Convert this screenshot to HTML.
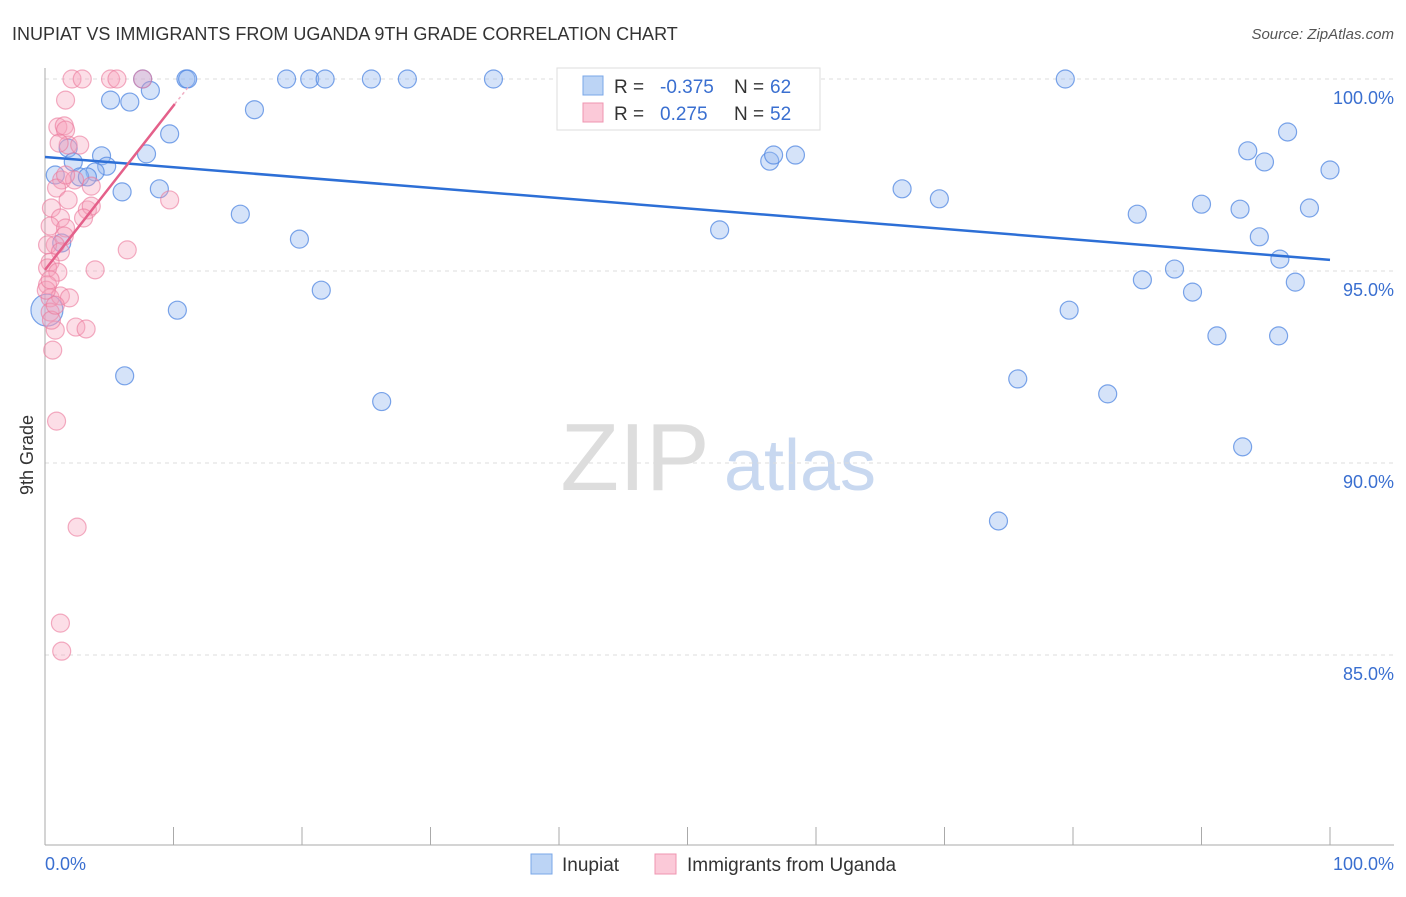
<!DOCTYPE html>
<html><head><meta charset="utf-8"><style>
body{margin:0;background:#fff;font-family:"Liberation Sans",sans-serif;}
svg text{font-family:"Liberation Sans",sans-serif;}
</style></head><body>
<svg id="chart" width="1406" height="892" xmlns="http://www.w3.org/2000/svg">
<text x="12" y="40" font-size="18" fill="#333">INUPIAT VS IMMIGRANTS FROM UGANDA 9TH GRADE CORRELATION CHART</text>
<text x="1394" y="39" font-size="15" fill="#555" font-style="italic" text-anchor="end">Source: ZipAtlas.com</text>
<text x="33" y="455" font-size="18" fill="#333" transform="rotate(-90 33 455)" text-anchor="middle">9th Grade</text>
<g><text x="635" y="490" font-size="96" fill="#ddd" text-anchor="middle" font-family="Liberation Serif">ZIP</text><text x="800" y="490" font-size="72" fill="#c8d8f0" text-anchor="middle">atlas</text></g>
<g id="grid"></g><g id="axes"></g><g id="pts"></g><g id="lines"></g>
<g>
<rect x="557" y="68" width="263" height="62" fill="#fff" stroke="#ddd"/>
<rect x="583" y="76" width="20" height="19" fill="#bcd4f5" stroke="#7aa7e8"/>
<rect x="583" y="103" width="20" height="19" fill="#fbc9d8" stroke="#ef95b0"/>
<text x="614" y="93" font-size="19" fill="#333">R = </text><text x="660" y="93" font-size="19" fill="#3a6fd0">-0.375</text>
<text x="734" y="93" font-size="19" fill="#333">N = </text><text x="770" y="93" font-size="19" fill="#3a6fd0">62</text>
<text x="614" y="120" font-size="19" fill="#333">R = </text><text x="660" y="120" font-size="19" fill="#3a6fd0">0.275</text>
<text x="734" y="120" font-size="19" fill="#333">N = </text><text x="770" y="120" font-size="19" fill="#3a6fd0">52</text>
</g>
<g>
<rect x="531" y="854" width="21" height="20" fill="#bcd4f5" stroke="#7aa7e8"/>
<text x="562" y="871" font-size="19" fill="#333">Inupiat</text>
<rect x="655" y="854" width="21" height="20" fill="#fbc9d8" stroke="#ef95b0"/>
<text x="687" y="871" font-size="19" fill="#333">Immigrants from Uganda</text>
</g>
<text x="45" y="870" font-size="18" fill="#3a6fd0">0.0%</text>
<text x="1394" y="870" font-size="18" fill="#3a6fd0" text-anchor="end">100.0%</text>
</svg>
<script>
const yTicks=[100,95,90,85];
const yTickLabels=["100.0%","95.0%","90.0%","85.0%"];
const blueX=[7.6,10.97,11.1,18.8,20.6,21.8,25.4,28.2,34.9,47.1,79.4,5.1,6.6,8.2,16.3,9.7,1.8,4.4,7.9,2.2,4.8,3.9,0.8,2.7,3.3,6.0,8.9,1.3,15.2,19.8,21.5,10.3,0.15,6.2,26.2,52.5,56.4,56.7,58.4,66.7,69.6,75.7,74.2,79.7,82.7,85.0,85.4,87.9,89.3,90.0,91.2,93.0,93.6,94.5,94.9,93.2,96.1,96.0,96.7,97.3,98.4,100];
const blueY=[100,100,100,100,100,100,100,100,100,100,100,99.45,99.4,99.7,99.2,98.57,98.2,98.0,98.05,97.84,97.73,97.58,97.5,97.45,97.45,97.06,97.14,95.73,96.48,95.83,94.5,93.98,93.98,92.27,91.6,96.07,97.86,98.02,98.02,97.14,96.88,92.19,88.49,93.98,91.8,96.48,94.77,95.05,94.45,96.74,93.31,96.61,98.13,95.89,97.84,90.42,95.31,93.31,98.62,94.71,96.64,97.63];
const pinkX=[2.1,2.9,5.1,5.6,7.6,1.6,1.0,1.5,1.6,1.8,1.1,2.7,1.3,3.6,0.9,1.8,3.3,3.6,0.5,1.2,3.0,0.4,1.6,1.5,0.8,0.2,1.2,6.4,0.4,0.2,1.0,3.9,0.2,0.4,1.2,1.9,0.4,0.8,2.4,3.2,0.6,9.7,0.9,2.5,1.2,1.3,0.1,0.4,0.5,0.8,2.3,1.6];
const pinkY=[100,100,100,100,100,99.45,98.75,98.78,98.67,98.28,98.33,98.28,97.37,97.21,97.16,96.85,96.59,96.69,96.64,96.38,96.38,96.17,96.12,95.91,95.68,95.68,95.5,95.55,95.23,95.08,94.97,95.03,94.64,94.3,94.35,94.3,93.93,93.46,93.54,93.49,92.94,96.85,91.09,88.33,85.83,85.1,94.5,94.77,93.72,94.11,97.37,97.5];
const blueTrend=[[0,97.97],[100,95.29]];
const pinkTrend=[[0,95.03],[10.1,99.35]];
const pinkTrendExt=[[10.1,99.35],[11.3,99.85]];
const NS='http://www.w3.org/2000/svg';
const X=v=>45+v*12.85, Y=v=>79+(100-v)*38.4;
function mk(tag,attrs,parent){const e=document.createElementNS(NS,tag);for(const k in attrs)e.setAttribute(k,attrs[k]);document.getElementById(parent).appendChild(e);return e;}
yTicks.forEach((t,i)=>{
 const g=mk('line',{x1:45,x2:1394,y1:Y(t),y2:Y(t),stroke:'#ddd','stroke-dasharray':'4,4'},'grid');
 
 
 const tx=mk('text',{x:1394,y:Y(t)+25,'font-size':18,fill:'#3a6fd0','text-anchor':'end'},'grid');
 tx.textContent=yTickLabels[i];
 
 
});
const ax=mk('line',{x1:45,x2:45,y1:68,y2:845,stroke:'#aaa'},'axes');


const bx=mk('line',{x1:45,x2:1394,y1:845,y2:845,stroke:'#aaa'},'axes');


for(let i=1;i<=10;i++){const t=mk('line',{x1:X(i*10),x2:X(i*10),y1:827,y2:845,stroke:'#aaa'},'axes');
 
 }
blueX.forEach((x,i)=>{const r=(i===32)?16:9;
 const c=mk('circle',{cx:X(x),cy:Y(blueY[i]),r:r,fill:'rgba(150,185,240,0.4)',stroke:'rgba(80,135,225,0.75)','stroke-width':1.2},'pts');
 
 });
pinkX.forEach((x,i)=>{
 const c=mk('circle',{cx:X(x),cy:Y(pinkY[i]),r:9,fill:'rgba(245,160,185,0.35)',stroke:'rgba(235,120,155,0.6)','stroke-width':1.2},'pts');
 
 });
const bl=mk('line',{x1:X(blueTrend[0][0]),y1:Y(blueTrend[0][1]),x2:X(blueTrend[1][0]),y2:Y(blueTrend[1][1]),stroke:'#2d6fd6','stroke-width':2.5},'lines');


const pl=mk('line',{x1:X(pinkTrend[0][0]),y1:Y(pinkTrend[0][1]),x2:X(pinkTrend[1][0]),y2:Y(pinkTrend[1][1]),stroke:'#e4608a','stroke-width':2.5},'lines');


const pe=mk('line',{x1:X(pinkTrendExt[0][0]),y1:Y(pinkTrendExt[0][1]),x2:X(pinkTrendExt[1][0]),y2:Y(pinkTrendExt[1][1]),stroke:'#f0b0c5','stroke-width':1.5,'stroke-dasharray':'3,3'},'lines');


</script>
</body></html>
